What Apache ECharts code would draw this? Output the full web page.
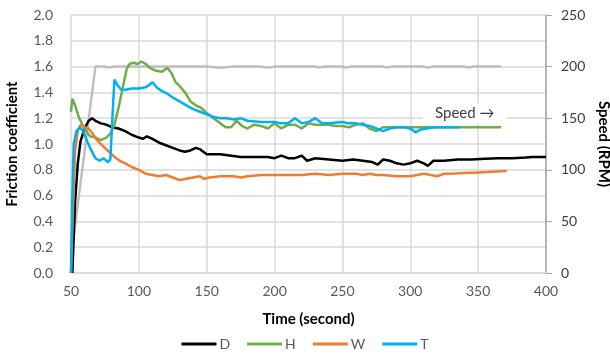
<!DOCTYPE html>
<html>
<head>
<meta charset="utf-8">
<script src="https://cdn.jsdelivr.net/npm/echarts@6/dist/echarts.min.js"></script>
<style>
  html, body { margin: 0; padding: 0; background: #fff; }
  #chart { width: 610px; height: 358px; }
</style>
</head>
<body>
<div id="chart"></div>
<script>
// [time (s), friction coefficient]
const dData = [[51,0],[53,0.55],[55,0.85],[57,1.02],[60,1.12],[63,1.18],[65.5,1.2],[68,1.18],[72,1.16],[76,1.15],[80,1.13],[85,1.12],[90,1.1],[95,1.07],[100,1.05],[103,1.04],[106,1.06],[110,1.04],[115,1.01],[120,0.99],[125,0.97],[130,0.95],[134,0.94],[138,0.95],[142,0.97],[145,0.96],[150,0.92],[160,0.92],[175,0.9],[185,0.9],[195,0.9],[200,0.89],[205,0.91],[210,0.89],[215,0.89],[220,0.91],[224,0.87],[230,0.89],[240,0.88],[250,0.87],[258,0.88],[265,0.87],[272,0.86],[276,0.84],[280,0.88],[285,0.87],[290,0.85],[295,0.84],[300,0.85],[305,0.87],[310,0.85],[313,0.83],[317,0.87],[325,0.87],[335,0.88],[345,0.88],[355,0.885],[365,0.89],[375,0.89],[385,0.895],[390,0.9],[400,0.9]];
const hData = [[50,1.25],[51,1.35],[53,1.3],[56,1.2],[60,1.12],[64,1.06],[68,1.05],[72,1.03],[76,1.05],[79,1.08],[82,1.15],[85,1.28],[88,1.43],[91,1.58],[93,1.62],[96,1.63],[99,1.62],[102,1.64],[105,1.62],[108,1.59],[112,1.57],[117,1.56],[121,1.59],[124,1.55],[127,1.48],[130,1.45],[134,1.4],[138,1.33],[142,1.3],[146,1.28],[150,1.24],[155,1.2],[160,1.16],[164,1.13],[168,1.13],[172,1.18],[176,1.14],[180,1.12],[185,1.15],[190,1.14],[195,1.12],[200,1.16],[205,1.12],[210,1.15],[215,1.15],[220,1.12],[225,1.16],[230,1.15],[240,1.15],[245,1.14],[250,1.14],[255,1.13],[260,1.15],[265,1.16],[270,1.12],[275,1.1],[280,1.13],[290,1.13],[300,1.13],[310,1.13],[320,1.13],[330,1.13],[340,1.13],[350,1.13],[360,1.13],[367,1.13]];
const wData = [[50,0],[51.5,0.5],[53,0.95],[55,1.1],[57,1.15],[60,1.13],[63,1.12],[66,1.08],[70,1.02],[74,0.98],[78,0.94],[82,0.9],[86,0.87],[90,0.85],[95,0.82],[100,0.8],[105,0.77],[110,0.76],[115,0.75],[120,0.76],[125,0.74],[130,0.72],[135,0.73],[140,0.74],[145,0.75],[148,0.73],[152,0.74],[160,0.75],[170,0.75],[175,0.74],[180,0.75],[190,0.76],[200,0.76],[210,0.76],[220,0.76],[230,0.77],[240,0.76],[250,0.77],[260,0.77],[265,0.76],[270,0.77],[275,0.76],[280,0.76],[290,0.75],[300,0.75],[305,0.76],[310,0.77],[315,0.76],[320,0.75],[325,0.77],[330,0.77],[340,0.775],[350,0.78],[360,0.785],[371,0.79]];
const tData = [[50,0],[51,0.6],[52,1.0],[54,1.1],[56.5,1.13],[59,1.1],[62,1.02],[65,0.95],[68,0.89],[71,0.87],[74,0.89],[77,0.86],[79,0.88],[80.5,1.2],[82,1.5],[84,1.46],[87,1.42],[90,1.42],[95,1.43],[100,1.43],[105,1.44],[108,1.46],[110,1.48],[113,1.44],[117,1.41],[121,1.39],[125,1.36],[130,1.33],[135,1.3],[140,1.27],[145,1.25],[150,1.23],[155,1.21],[160,1.2],[165,1.2],[170,1.19],[175,1.2],[180,1.18],[190,1.17],[200,1.17],[205,1.16],[210,1.16],[215,1.2],[220,1.16],[225,1.17],[230,1.2],[235,1.16],[240,1.16],[250,1.17],[255,1.16],[260,1.16],[265,1.15],[270,1.14],[275,1.12],[280,1.1],[285,1.12],[290,1.13],[295,1.13],[300,1.12],[304,1.09],[307,1.11],[312,1.12],[318,1.13],[325,1.13],[330,1.13],[336,1.13]];
// [time (s), speed (RPM)]
const speedData = [[50,0],[51,25],[68,200],[75,200],[78,199],[82,200],[150,200],[160,199],[170,200],[190,200],[195,199],[200,200],[230,200],[233,199],[236,200],[250,200],[253,199],[256,200],[280,200],[283,199],[286,200],[310,200],[313,199],[316,200],[340,200],[343,199],[346,200],[367,200]];

const seriesNames = ["D", "H", "W", "T"];
const seriesColors = ["#000000", "#70ad47", "#ed7d31", "#00b0f0"];
const frictionData = [dData, hData, wData, tData];

const font = "Lato, 'Liberation Sans', sans-serif";
const labelColor = "#595959";

let chart = echarts.init(document.getElementById("chart"));

const series = seriesNames.map((name, i) => ({
  name: name,
  type: "line",
  yAxisIndex: 0,
  data: frictionData[i],
  showSymbol: false,
  lineStyle: { width: 2.5, color: seriesColors[i] },
  itemStyle: { color: seriesColors[i] },
  z: 3,
}));

series.unshift({
  name: "Speed",
  type: "line",
  yAxisIndex: 1,
  data: speedData,
  showSymbol: false,
  lineStyle: { width: 2.5, color: "#bfbfbf" },
  itemStyle: { color: "#bfbfbf" },
  z: 2,
});

const option = {
  animation: false,
  textStyle: { fontFamily: font },
  grid: {
    left: 71,
    right: 64,
    top: 15,
    bottom: 85,
    containLabel: false,
    outerBoundsMode: "none",
  },
  legend: {
    data: seriesNames,
    bottom: 2,
    left: "center",
    icon: "rect",
    itemWidth: 35,
    itemHeight: 3,
    itemGap: 17,
    textStyle: { fontFamily: font, fontSize: 14, color: labelColor, padding: [0, 0, 0, -2] },
  },
  xAxis: {
    type: "value",
    min: 50,
    max: 400,
    interval: 50,
    name: "Time (second)",
    nameLocation: "middle",
    nameGap: 39,
    nameTextStyle: { fontFamily: font, fontSize: 15, fontWeight: "bold", color: "#000" },
    axisLine: { show: true, lineStyle: { color: "#d9d9d9", width: 1.5 } },
    axisTick: { show: false },
    axisLabel: { fontSize: 14, color: labelColor, margin: 11 },
    splitLine: { show: true, lineStyle: { color: "#d9d9d9", width: 1.5 } },
  },
  yAxis: [
    {
      type: "value",
      min: 0,
      max: 2,
      interval: 0.2,
      name: "Friction coefficient",
      nameLocation: "middle",
      nameGap: 51,
      nameTextStyle: { fontFamily: font, fontSize: 15, fontWeight: "bold", color: "#000" },
      axisLine: { show: false },
      axisTick: { show: false },
      axisLabel: {
        fontSize: 14,
        color: labelColor,
        margin: 18,
        formatter: (v) => v.toFixed(1),
      },
      splitLine: { show: true, lineStyle: { color: "#d9d9d9", width: 1.5 } },
    },
    {
      type: "value",
      position: "right",
      min: 0,
      max: 250,
      interval: 50,
      name: "Speed (RPM)",
      nameLocation: "middle",
      nameGap: 48,
      nameRotate: -90,
      nameTextStyle: { fontFamily: font, fontSize: 15, fontWeight: "bold", color: "#000" },
      axisLine: { show: true, lineStyle: { color: "#a6a6a6", width: 1.5 } },
      axisTick: { show: true, length: 6, lineStyle: { color: "#a6a6a6" } },
      axisLabel: { fontSize: 14, color: "#404040", margin: 15 },
      splitLine: { show: false },
    },
  ],
  graphic: [
    {
      type: "text",
      left: 423,
      top: 104,
      z: 1,
      style: {
        text: "Speed \u2192",
        fontFamily: font,
        fontSize: 15,
        fill: "#404040",
        backgroundColor: "#fff",
        padding: [2, 12],
      },
    },
  ],
  series: series,
};

chart.setOption(option);
</script>
</body>
</html>
